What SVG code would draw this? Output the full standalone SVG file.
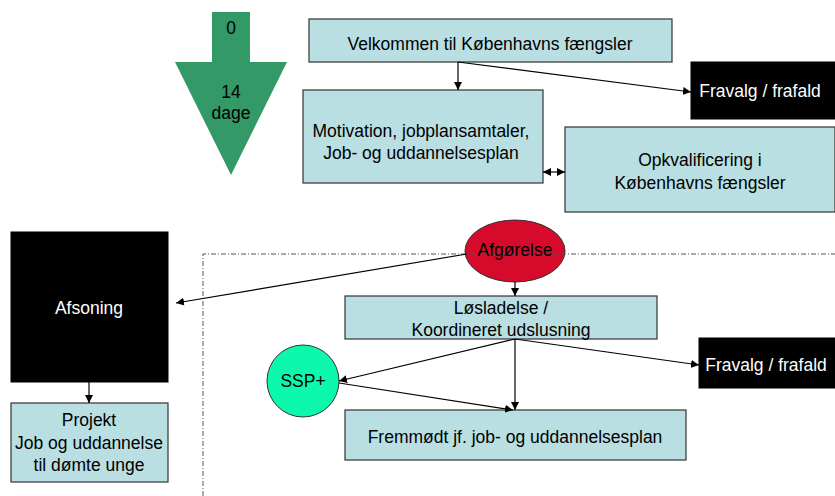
<svg xmlns="http://www.w3.org/2000/svg" width="835" height="496" viewBox="0 0 835 496">
<defs>
<style>
text{font-family:"Liberation Sans",Arial,sans-serif;font-size:17.5px;fill:#000;text-anchor:middle}
.box{fill:#b9dfe2;stroke:#333;stroke-width:1.2}
.blk{fill:#000;stroke:#000}
.wt{fill:#fff}
.con{stroke:#000;stroke-width:1.2;fill:none}
</style>
<marker id="ah" viewBox="0 0 10 10" refX="10" refY="5" markerWidth="8" markerHeight="8" markerUnits="userSpaceOnUse" orient="auto-start-reverse">
<path d="M0,0 L10,5 L0,10 z" fill="#000"/>
</marker>
</defs>
<rect width="835" height="496" fill="#fff"/>

<g id="timeline">
<polygon points="212,12 250,12 250,62 287,62 231,175 175,62 212,62" fill="#339966"/>
<text x="231" y="34">0</text>
<text x="231" y="98">14</text>
<text x="231" y="119">dage</text>
</g>

<g id="velkommen">
<rect class="box" x="309" y="19" width="363" height="43"/>
<text x="490" y="50">Velkommen til Københavns fængsler</text>
</g>

<g id="motivation">
<rect class="box" x="303" y="90" width="240" height="93"/>
<text x="421" y="137">Motivation, jobplansamtaler,</text>
<text x="421" y="159">Job- og uddannelsesplan</text>
</g>

<g id="opkvalificering">
<rect class="box" x="565" y="127" width="270" height="85"/>
<text x="700" y="166">Opkvalificering i</text>
<text x="700" y="189">Københavns fængsler</text>
</g>

<g id="fravalg1">
<rect class="blk" x="691" y="62" width="144" height="57"/>
<text class="wt" x="760" y="97">Fravalg / frafald</text>
</g>

<g id="afsoning">
<rect class="blk" x="11" y="232" width="157" height="150"/>
<text class="wt" x="89" y="314">Afsoning</text>
</g>

<g id="projekt">
<rect class="box" x="11" y="403" width="157" height="79"/>
<text x="89" y="426">Projekt</text>
<text x="89" y="449">Job og uddannelse</text>
<text x="89" y="471">til dømte unge</text>
</g>

<g id="afgorelse">
<ellipse cx="515" cy="251" rx="50" ry="31" fill="#d60b2b" stroke="#333" stroke-width="1"/>
</g>

<g id="frame">
<polyline points="203,496 203,254 835,254" fill="none" stroke="#555" stroke-width="1" stroke-dasharray="5 2 1 2"/>
</g>
<text x="515" y="256">Afgørelse</text>

<g id="losladelse">
<rect class="box" x="345" y="296" width="312" height="43"/>
<text x="501" y="314">Løsladelse /</text>
<text x="501" y="336">Koordineret udslusning</text>
</g>

<g id="fravalg2">
<rect class="blk" x="699" y="338" width="136" height="50"/>
<text class="wt" x="766" y="371">Fravalg / frafald</text>
</g>

<g id="ssp">
<circle cx="303" cy="381" r="36" fill="#0cf8ac" stroke="#333" stroke-width="1"/>
<text x="303" y="387">SSP+</text>
</g>

<g id="fremmodt">
<rect class="box" x="345" y="410" width="341" height="50"/>
<text x="515" y="443">Fremmødt jf. job- og uddannelsesplan</text>
</g>

<g id="connectors">
<line class="con" x1="458" y1="62" x2="458" y2="90" marker-end="url(#ah)"/>
<line class="con" x1="458" y1="62" x2="691" y2="92" marker-end="url(#ah)"/>
<line class="con" x1="543" y1="172" x2="565" y2="172" marker-start="url(#ah)" marker-end="url(#ah)"/>
<line class="con" x1="467" y1="254" x2="176" y2="303" marker-end="url(#ah)"/>
<line class="con" x1="515" y1="282" x2="515" y2="296" marker-end="url(#ah)"/>
<line class="con" x1="89" y1="382" x2="89" y2="403" marker-end="url(#ah)"/>
<line class="con" x1="515" y1="339" x2="339" y2="381" marker-end="url(#ah)"/>
<line class="con" x1="515" y1="339" x2="515" y2="410" marker-end="url(#ah)"/>
<line class="con" x1="515" y1="339" x2="699" y2="365" marker-end="url(#ah)"/>
<line class="con" x1="339" y1="383" x2="513" y2="410" marker-end="url(#ah)"/>
</g>
</svg>
